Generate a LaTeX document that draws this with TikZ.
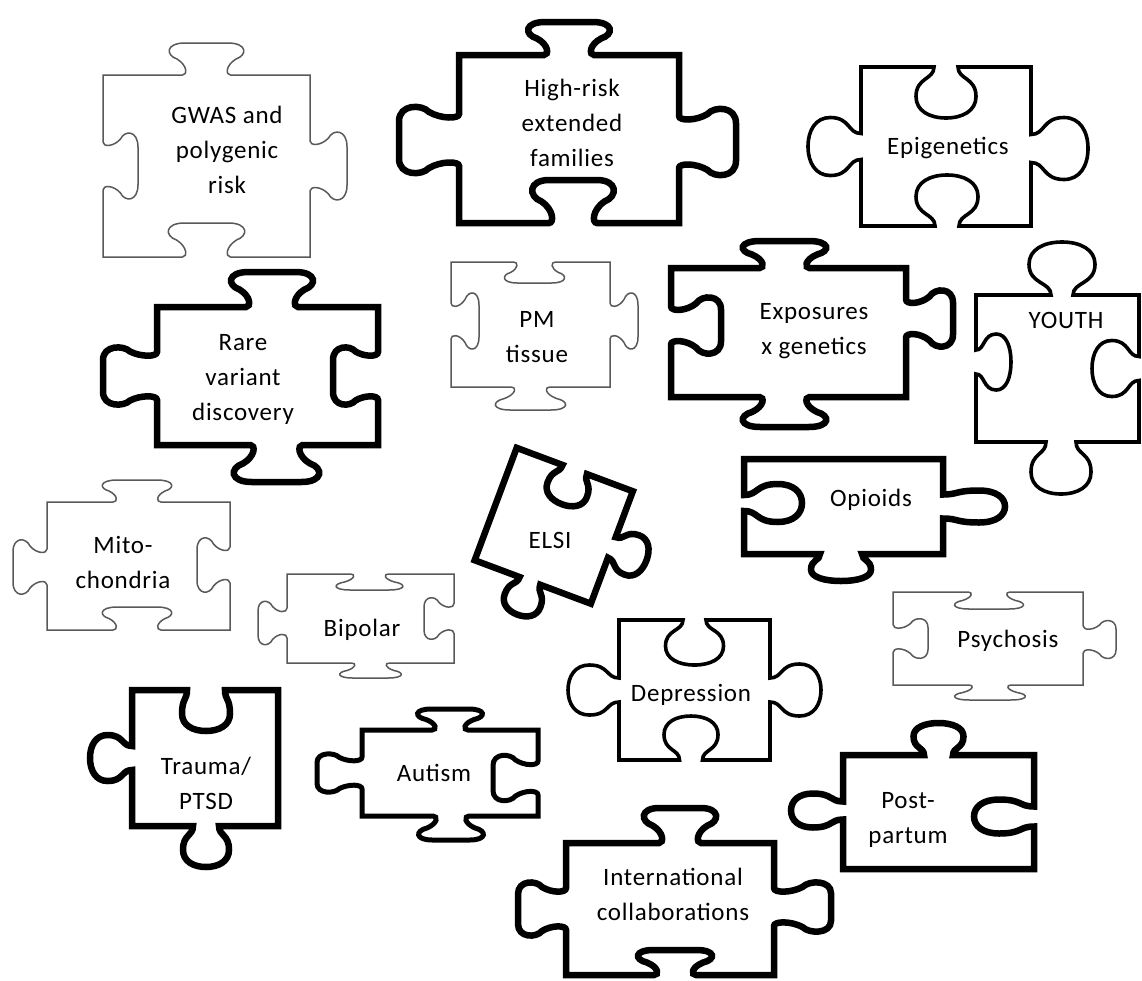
\documentclass[tikz,border=0pt]{standalone}
\usepackage{fontspec}
\setmainfont{Carlito}
\newfontfamily\lblfont[LetterSpace=3]{Carlito}
\tikzset{
  thin piece/.style={line width=1.5pt,draw=black!65},
  medium piece/.style={line width=3.6pt,draw=black},
  bold piece/.style={line width=5pt,draw=black},
  thick piece/.style={line width=6.5pt,draw=black},
  piece label/.style={align=center,inner sep=0pt,font=\lblfont\fontsize{25}{35}\selectfont},
}
% S-shaped knob: offset, +1 out / -1 in, neck half width, head half width, depth
\newcommand{\kS}[5]{%
 -- ({#1-#3-4},0)
 .. controls ({#1-#3+1},0) and ({#1-#3+1},{#2*0.3*#5}) .. ({#1-(#3+#4)/2},{#2*0.5*#5})
 .. controls ({#1-#4-2},{#2*0.62*#5}) and ({#1-#4-2},{#2*#5}) .. ({#1-0.55*#4},{#2*#5})
 -- ({#1+0.55*#4},{#2*#5})
 .. controls ({#1+#4+2},{#2*#5}) and ({#1+#4+2},{#2*0.62*#5}) .. ({#1+(#3+#4)/2},{#2*0.5*#5})
 .. controls ({#1+#3-1},{#2*0.3*#5}) and ({#1+#3-1},0) .. ({#1+#3+4},0)}
% round knob: offset, +1 out / -1 in, neck half width, bulb radius, depth
\newcommand{\kR}[5]{%
 -- ({#1-#3},0)
 .. controls ({#1-#3},{#2*0.25*#5}) and ({#1-#4},{#2*0.2*#5}) .. ({#1-#4},{#2*0.58*#5})
 .. controls ({#1-#4},{#2*0.86*#5}) and ({#1-0.55*#4},{#2*#5}) .. ({#1},{#2*#5})
 .. controls ({#1+0.55*#4},{#2*#5}) and ({#1+#4},{#2*0.86*#5}) .. ({#1+#4},{#2*0.58*#5})
 .. controls ({#1+#4},{#2*0.2*#5}) and ({#1+#3},{#2*0.25*#5}) .. ({#1+#3},0)}
\newcommand{\kF}{}
% piece: style, centre, angle, width, height, top, right, bottom, left
\newcommand{\drawPiece}[9][]{%
\begin{scope}[shift={(#2)},rotate=#3]
\draw[#1] (-#4/2,#5/2) {[shift={(0,#5/2)}] #6} -- (#4/2,#5/2)
  {[shift={(#4/2,0)},rotate=-90] #7} -- (#4/2,-#5/2)
  {[shift={(0,-#5/2)},rotate=180] #8} -- (-#4/2,-#5/2)
  {[shift={(-#4/2,0)},rotate=90] #9} -- cycle;
\end{scope}}
\begin{document}
\begin{tikzpicture}[x=1pt,y=1pt]
\useasboundingbox (0,0) rectangle (1142,-980);
\fill[white] (0,0) rectangle (1142,-980);
% thin pieces
\drawPiece[thin piece]{206.5,-166}{0}{207}{182}{\kS{0}{1}{20}{39}{32}}{\kS{0}{1}{21}{35}{37}}{\kS{0}{-1}{20}{40}{34}}{\kS{0}{-1}{20}{34}{35}}
\drawPiece[thin piece]{530.5,-324.5}{0}{159}{125}{\kS{4}{-1}{17}{31}{21}}{\kS{-3.5}{1}{14}{29}{28}}{\kS{0}{1}{15}{37}{23}}{\kS{3.5}{-1}{14}{29}{28}}
\drawPiece[thin piece]{138.5,-566}{0}{183}{128}{\kS{-1.5}{1}{20}{36}{22}}{\kS{-1}{-1}{14}{28}{33}}{\kS{1.5}{-1}{20}{36}{23}}{\kS{-1}{1}{14}{28}{34}}
\drawPiece[thin piece]{370.5,-618.5}{0}{167}{89}{\kS{-1}{-1}{15}{35}{16}}{\kS{0}{-1}{11}{21}{30}}{\kS{0}{1}{15}{32}{15}}{\kS{-4.5}{1}{11}{22}{29}}
\drawPiece[thin piece]{988,-638.5}{0}{190}{93}{\kS{1}{-1}{17}{36}{17}}{\kS{1}{1}{10}{19}{33}}{\kS{-2}{1}{17}{37}{15}}{\kS{0}{-1}{10}{20}{35}}
% medium pieces
\drawPiece[medium piece]{946,-146.5}{0}{170}{159}{\kR{0}{-1}{12}{30}{51}}{\kR{2}{1}{14}{31}{57}}{\kR{-1}{-1}{12}{31}{51}}{\kR{0}{1}{13}{29}{53}}
\drawPiece[medium piece]{1057.5,-368.5}{0}{163}{147}{\kR{4.5}{1}{11}{33}{53}}{\kR{0}{-1}{12}{28}{47}}{\kR{-3.5}{1}{15}{30}{52}}{\kR{6.5}{-1}{12}{28}{35}}
\drawPiece[medium piece]{694.5,-690}{0}{151}{140}{\kR{0}{-1}{11.5}{29}{45}}{\kR{0}{1}{12}{26}{51}}{\kR{3.5}{-1}{11.5}{27}{44}}{\kR{0}{1}{12}{25}{51}}
\drawPiece[bold piece]{450,-773}{0}{176}{86}{\kS{0}{1}{14}{34}{21}}{\kS{5}{-1}{13}{23}{45}}{\kS{-1}{1}{14}{34}{24}}{\kS{0}{1}{12}{19}{45}}
% thick pieces
\drawPiece[thick piece]{569,-139}{0}{220}{168}{\kS{0}{1}{21}{43}{33}}{\kS{3}{1}{22}{34}{57}}{\kS{-4}{-1}{20}{43}{43}}{\kS{-1}{1}{22}{34}{60}}
\drawPiece[thick piece]{267.5,-376}{0}{221}{138}{\kS{4.5}{1}{22}{43}{35}}{\kS{0}{-1}{20}{29}{45}}{\kS{-9}{1}{22}{45}{37}}{\kS{0}{1}{20}{29}{54}}
\drawPiece[thick piece]{788.5,-332.5}{0}{235}{129}{\kS{-4}{1}{21}{44}{27}}{\kS{-14}{1}{15}{29}{47}}{\kS{4}{1}{21}{44}{30}}{\kS{7}{-1}{15}{29}{50}}
\drawPiece[thick piece]{553.75,-525.75}{-20.5}{124}{120}{\kR{0}{-1}{13}{21}{37}}{\kR{0}{1}{11}{21}{37}}{\kR{3}{1}{11}{19}{36}}{\kF}
\drawPiece[thick piece]{843.5,-506.5}{0}{199}{95}{\kF}{\kR{0}{1}{12}{16}{62}}{\kR{2.5}{1}{21}{30}{27}}{\kR{3.5}{-1}{8}{19}{58}}
\drawPiece[thick piece]{205,-758}{0}{146}{136}{\kR{1}{-1}{19}{24}{41}}{\kF}{\kR{-1}{1}{13}{23}{41}}{\kR{0}{1}{12}{23}{42}}
\drawPiece[thick piece]{938.5,-812}{0}{191}{114}{\kR{0}{1}{14.5}{25}{32}}{\kR{4.5}{-1}{10}{17}{60}}{\kF}{\kR{1.5}{1}{9}{17}{52}}
\drawPiece[thick piece]{670,-909}{0}{208}{132}{\kS{10}{1}{17}{38}{35}}{\kS{-2}{1}{15}{25}{57}}{\kS{-5}{-1}{17}{39}{25}}{\kS{0}{1}{17}{27}{48}}
% labels
\node[piece label] (gwas) at (227,-150) {GWAS and\\polygenic\\risk};
\node[piece label] (highrisk) at (572,-123) {High-risk\\extended\\families};
\node[piece label] (epigen) at (948,-148) {Epigenetics};
\node[piece label] (pmtissue) at (537,-337) {PM\\tissue};
\node[piece label] (rare) at (243,-379) {Rare\\variant\\discovery};
\node[piece label] (exposures) at (814,-331) {Exposures\\x genetics};
\node[piece label] (youth) at (1066,-320) {YOUTH};
\node[piece label] (mito) at (123,-562) {Mito-\\chondria};
\node[piece label] (elsi) at (550,-540) {ELSI};
\node[piece label] (opioids) at (871,-500) {Opioids};
\node[piece label] (bipolar) at (362,-630) {Bipolar};
\node[piece label] (psychosis) at (1008,-641) {Psychosis};
\node[piece label] (depression) at (691,-695) {Depression};
\node[piece label] (trauma) at (206,-783) {Trauma/\\PTSD};
\node[piece label] (autism) at (434,-773) {Autism};
\node[piece label] (postpartum) at (908,-820) {Post-\\partum};
\node[piece label] (intl) at (673,-894) {International\\collaborations};
\end{tikzpicture}
\end{document}
